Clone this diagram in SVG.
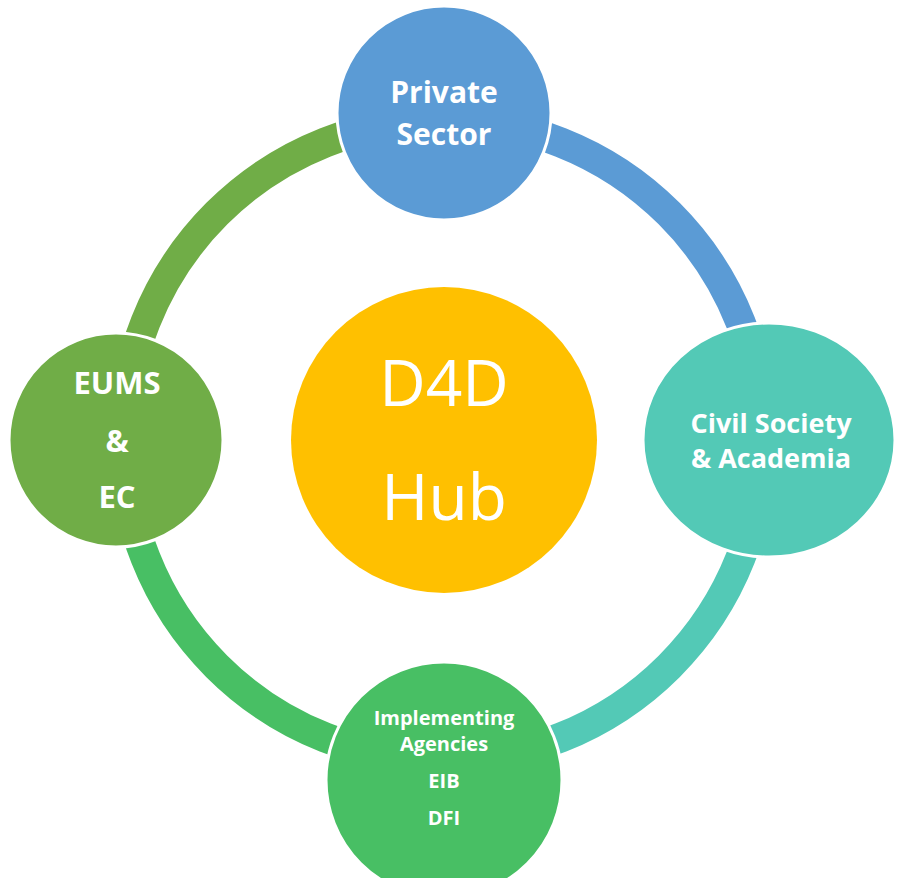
<svg xmlns="http://www.w3.org/2000/svg" width="897" height="878" viewBox="0 0 897 878">
<style>
.ring{fill:none;stroke-width:30}
.node{stroke:#fff;stroke-width:3}
.lbl{font-family:"Open Sans","Noto Sans","Liberation Sans",sans-serif;font-weight:bold;fill:#fff;text-anchor:middle}
.hub{font-family:"Open Sans","Noto Sans","Liberation Sans",sans-serif;fill:#fff;text-anchor:middle}
</style>
<rect width="897" height="878" fill="#fff"/>
<g id="connectors">
<path class="ring" stroke="#70AD47" d="M123,440 A320,320 0 0 1 443,120"/>
<path class="ring" stroke="#5B9BD5" d="M443,120 A320,320 0 0 1 763,440"/>
<path class="ring" stroke="#53C9B6" d="M763,440 A320,320 0 0 1 443,760"/>
<path class="ring" stroke="#48BF64" d="M443,760 A320,320 0 0 1 123,440"/>
</g>
<g id="hub">
<circle cx="444" cy="440" r="153" fill="#FFC000"/>
<text class="hub" x="444" y="406" font-size="64">D4D</text>
<text class="hub" x="444" y="520" font-size="64">Hub</text>
</g>
<g id="private-sector">
<circle class="node" cx="444" cy="113" r="107" fill="#5B9BD5"/>
<text class="lbl" x="444" y="103" font-size="30">Private</text>
<text class="lbl" x="444" y="145" font-size="30">Sector</text>
</g>
<g id="civil-society">
<ellipse class="node" cx="769" cy="440" rx="126" ry="117" fill="#53C9B6"/>
<text class="lbl" x="771" y="433" font-size="27">Civil Society</text>
<text class="lbl" x="771" y="468" font-size="27">&amp; Academia</text>
</g>
<g id="implementing-agencies">
<circle class="node" cx="444" cy="780" r="118" fill="#48BF64"/>
<text class="lbl" x="444" y="725" font-size="20">Implementing</text>
<text class="lbl" x="444" y="751" font-size="20">Agencies</text>
<text class="lbl" x="444" y="788" font-size="20">EIB</text>
<text class="lbl" x="444" y="825" font-size="20">DFI</text>
</g>
<g id="eums-ec">
<circle class="node" cx="116" cy="440" r="107" fill="#70AD47"/>
<text class="lbl" x="117" y="394" font-size="31">EUMS</text>
<text class="lbl" x="117" y="452" font-size="31">&amp;</text>
<text class="lbl" x="117" y="508" font-size="31">EC</text>
</g>
</svg>
